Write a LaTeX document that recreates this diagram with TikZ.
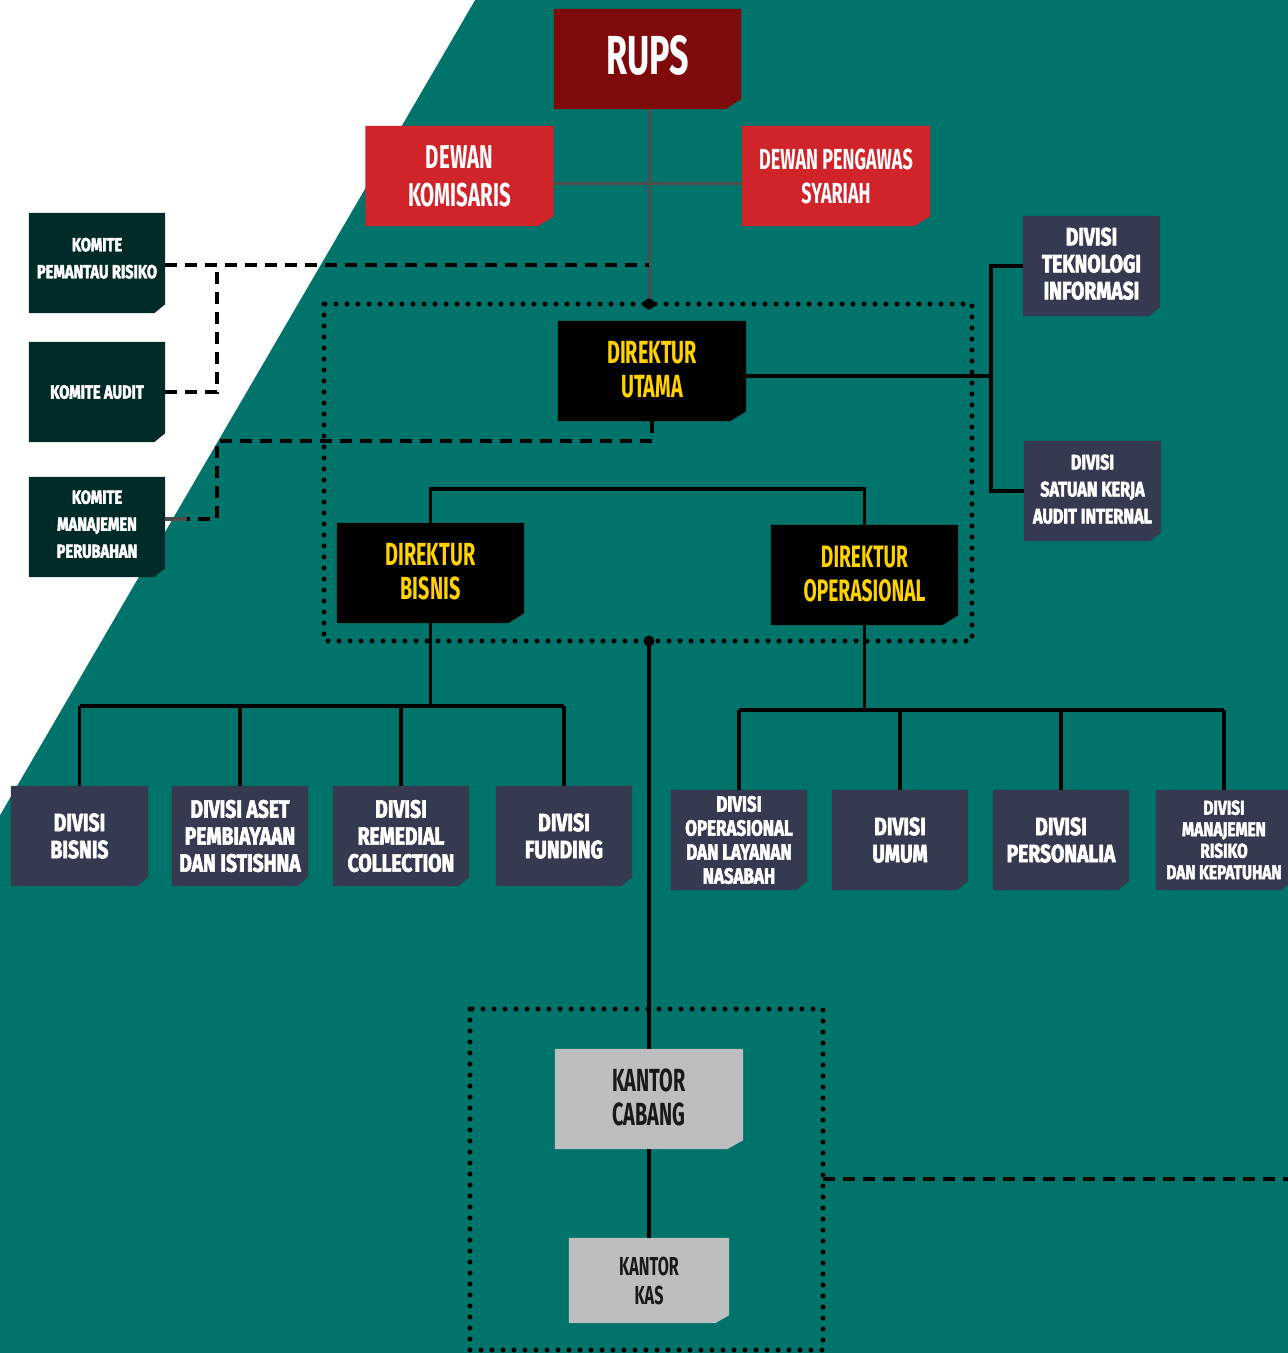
\documentclass[tikz,border=0pt]{standalone}
\usepackage{fontspec}
\setmainfont{Fira Sans}
\newfontfamily\hfont[FakeStretch=0.62]{Fira Sans}
\newfontfamily\dfont[FakeStretch=0.77,FakeBold=2.5]{Fira Sans}
\newfontfamily\kfont[FakeStretch=0.77,FakeBold=2.5]{Fira Sans}
\definecolor{bgteal}{HTML}{00736A}
\definecolor{crups}{HTML}{7F0A0B}
\definecolor{cred}{HTML}{D0232A}
\definecolor{ckom}{HTML}{012B28}
\definecolor{cdiv}{HTML}{363A50}
\definecolor{cdir}{HTML}{000000}
\definecolor{cyel}{HTML}{FFD200}
\definecolor{ckan}{HTML}{BDBEC1}
\definecolor{cgrayln}{HTML}{4D4D4D}
\pgfdeclarelayer{bgl}
\pgfdeclarelayer{boxl}
\pgfsetlayers{bgl,boxl,main}
\tikzset{
  box/.style={inner sep=0pt, align=center, minimum height=100pt},
  rupsbox/.style={box, minimum width=187pt, text=white, font=\hfont\bfseries\fontsize{55pt}{60pt}\selectfont},
  redbox/.style={box, minimum width=188pt, text=white},
  komite/.style={box, minimum width=136pt, text=white, font=\kfont\bfseries\fontsize{19pt}{27pt}\selectfont},
  divbox/.style={box, minimum width=137pt, text=white, font=\dfont\bfseries\fontsize{25pt}{27pt}\selectfont},
  dirbox/.style={box, minimum width=188pt, text=cyel, font=\hfont\bfseries\fontsize{32pt}{34pt}\selectfont},
  kantor/.style={box, text=black!90, font=\hfont\bfseries\fontsize{32pt}{34pt}\selectfont},
  blk/.style={line width=3.5pt, black},
  grayln/.style={line width=3pt, cgrayln},
  dashln/.style={line width=3.5pt, black, dash pattern=on 12pt off 8pt},
  dotln/.style={line width=5pt, black, dash pattern=on 0pt off 11pt, line cap=round},
}
\begin{document}
\begin{tikzpicture}[x=1pt,y=-1pt]
\useasboundingbox (0,0) rectangle (1288,1353);
\begin{pgfonlayer}{bgl}
  \fill[bgteal] (0,0) rectangle (1288,1353);
  \fill[white] (0,0) -- (475,0) -- (0,815) -- cycle;
\end{pgfonlayer}

% top
\node[rupsbox, text depth=8pt] (rups) at (647.5,59) {RUPS};
\node[redbox, font=\hfont\bfseries\fontsize{33pt}{38pt}\selectfont] (dk) at (459.5,176) {DEWAN\\KOMISARIS};
\node[redbox, font=\hfont\bfseries\fontsize{29pt}{34pt}\selectfont] (dps) at (836,176) {DEWAN PENGAWAS\\SYARIAH};

% komite
\node[komite, text depth=10pt] (kpr) at (97,263) {KOMITE\\PEMANTAU RISIKO};
\node[komite] (ka) at (97,392) {KOMITE AUDIT};
\node[komite, text depth=6pt] (kmp) at (97,527) {KOMITE\\MANAJEMEN\\PERUBAHAN};

% direksi
\node[dirbox, text depth=3pt] (du) at (652,371) {DIREKTUR\\UTAMA};
\node[dirbox, minimum width=187pt, text depth=3pt] (db) at (430.5,573) {DIREKTUR\\BISNIS};
\node[dirbox, minimum width=187pt, text depth=3pt, font=\hfont\bfseries\fontsize{31pt}{34pt}\selectfont] (do) at (864.5,575) {DIREKTUR\\OPERASIONAL};

\node[divbox, text depth=5pt] (dti) at (1091.5,266) {DIVISI\\TEKNOLOGI\\INFORMASI};
\node[divbox, text depth=4pt, font=\dfont\bfseries\fontsize{21pt}{27pt}\selectfont] (skai) at (1092.5,491) {DIVISI\\SATUAN KERJA\\AUDIT INTERNAL};

% divisions left
\node[divbox] (b1) at (79.5,836) {DIVISI\\BISNIS};
\node[divbox, minimum width=136pt] (b2) at (240,836) {DIVISI ASET\\PEMBIAYAAN\\DAN ISTISHNA};
\node[divbox, minimum width=136pt] (b3) at (401,836) {DIVISI\\REMEDIAL\\COLLECTION};
\node[divbox, minimum width=136pt] (b4) at (564,836) {DIVISI\\FUNDING};
% divisions right
\node[divbox, minimum width=136pt, font=\dfont\bfseries\fontsize{22pt}{24pt}\selectfont] (r1) at (739,840) {DIVISI\\OPERASIONAL\\DAN LAYANAN\\NASABAH};
\node[divbox, minimum width=136pt] (r2) at (900,840) {DIVISI\\UMUM};
\node[divbox, minimum width=136pt] (r3) at (1061,840) {DIVISI\\PERSONALIA};
\node[divbox, minimum width=136pt, font=\dfont\bfseries\fontsize{20pt}{21.5pt}\selectfont] (r4) at (1224,840) {DIVISI\\MANAJEMEN\\RISIKO\\DAN KEPATUHAN};

% kantor
\node[kantor, minimum width=188pt, text depth=3pt] (kc) at (649,1099) {KANTOR\\CABANG};
\node[kantor, minimum width=160pt, minimum height=85pt, font=\hfont\bfseries\fontsize{26pt}{29pt}\selectfont] (kk) at (649,1280.5) {KANTOR\\KAS};

% box fills with chamfered bottom-right corner
\begin{pgfonlayer}{boxl}
\foreach \n/\c/\dx/\dy in {rups/crups/16/10, dk/cred/16/10, dps/cred/16/10,
  kpr/ckom/11/9, ka/ckom/11/9, kmp/ckom/11/9,
  du/cdir/16/10, db/cdir/16/10, do/cdir/16/10,
  dti/cdiv/11/9, skai/cdiv/11/9,
  b1/cdiv/11/9, b2/cdiv/11/9, b3/cdiv/11/9, b4/cdiv/11/9,
  r1/cdiv/11/9, r2/cdiv/11/9, r3/cdiv/11/9, r4/cdiv/11/9,
  kc/ckan/16/9, kk/ckan/14/8}
  \fill[\c] (\n.north west) -- (\n.north east) -- ([yshift=\dy pt]\n.south east)
     -- ([xshift=-\dx pt]\n.south east) -- (\n.south west) -- cycle;
\end{pgfonlayer}

% coordinates
\coordinate (j1) at (649,304);
\coordinate (j2) at (649,641);
\coordinate (k1) at (217,265);
\coordinate (k2) at (217,441);
\coordinate (k3) at (217,519);
\coordinate (v1) at (991,376);
\coordinate (hr) at (0,489);
\coordinate (hl) at (0,706);
\coordinate (hrr) at (0,710);
\coordinate (e1) at (823,1179);
\coordinate (e2) at (1288,1179);

% dotted groups
\draw[dotln] (324,304) rectangle (972,641);
\draw[dotln] (470,1009) rectangle (823,1350);

% gray RUPS lines
\draw[grayln] (j1 |- rups.south) -- (j1);
\draw[grayln] ([yshift=-7pt]dk.east) -- ([yshift=-7pt]dps.west);

% dashed komite lines
\draw[dashln] (kpr.east |- k1) -- (j1 |- k1);
\draw[dashln] (ka.east) -| (k1);
\draw[dashln] (du.south) |- (k2) -- (k3) -- ([xshift=22pt]kmp.east |- k3);
\draw[line width=3.5pt, cgrayln] (kmp.east |- k3) -- ++(22,0);

% direktur utama to TI / SKAI
\draw[blk] (v1 -| du.east) -- (v1);
\draw[blk] (dti.west) -| (v1) |- (skai.west);

% direktur row
\draw[blk] (db.north) |- (do.north |- hr) -- (do.north);

% bisnis divisions
\draw[blk] (db.south) -- (db.south |- hl);
\draw[blk] (b1.north |- hl) -- (b4.north |- hl);
\foreach \b in {b1,b2,b3,b4} \draw[blk] (\b.north) -- (\b.north |- hl);

% operasional divisions
\draw[blk] (do.south) -- (do.south |- hrr);
\draw[blk] (r1.north |- hrr) -- (r4.north |- hrr);
\foreach \b in {r1,r2,r3,r4} \draw[blk] (\b.north) -- (\b.north |- hrr);

% kantor
\draw[blk] (j2) -- (kc.north);
\draw[blk] (kc.south) -- (kk.north);
\draw[dashln] (e1) -- (e2);

% junction dots
\fill (j1) circle (5.5pt);
\fill (j2) circle (5.5pt);
\end{tikzpicture}
\end{document}
